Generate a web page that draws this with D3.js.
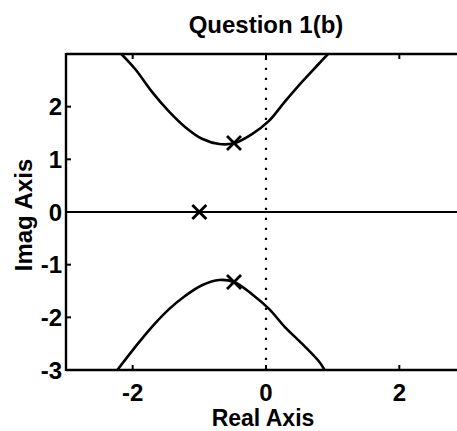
<!DOCTYPE html>
<html>
<head>
<meta charset="utf-8">
<script src="https://cdn.jsdelivr.net/npm/d3@7"></script>
<style>
  html, body { margin: 0; padding: 0; background: #fff; }
  svg text { font-family: "Liberation Sans", Arial, sans-serif; fill: #000; }
</style>
</head>
<body>
<svg id="chart" width="457" height="431"></svg>
<script>
// ---- data ----
const title = "Question 1(b)";
const xLabel = "Real Axis";
const yLabel = "Imag Axis";
const xTicks = [-2, 0, 2];
const yTicks = [-3, -2, -1, 0, 1, 2];
const xDomain = [-3, 3];
const yDomain = [-3, 3];

// upper branch of the locus (real, imag)
const upperRe = [-2.17, -1.96, -1.71, -1.45, -1.21, -0.96, -0.70, -0.47, -0.21, 0.045, 0.28, 0.54, 0.79, 0.93];
const upperIm = [3.0, 2.71, 2.28, 1.90, 1.61, 1.39, 1.29, 1.31, 1.48, 1.73, 2.09, 2.47, 2.81, 3.0];
// lower branch
const lowerRe = [-2.23, -1.96, -1.71, -1.45, -1.21, -0.96, -0.70, -0.48, -0.21, 0.045, 0.28, 0.54, 0.79, 0.88];
const lowerIm = [-3.0, -2.56, -2.18, -1.84, -1.59, -1.39, -1.29, -1.33, -1.56, -1.84, -2.18, -2.50, -2.83, -3.0];
// real-axis segment of the locus
const realAxisRe = [-3, 3];
const realAxisIm = [0, 0];
// open-loop poles
const polesRe = [-1, -0.48, -0.48];
const polesIm = [0, 1.31, -1.33];
// imaginary axis (dotted)
const imagAxisRe = [0, 0];
const imagAxisIm = [-3, 3];

// ---- drawing ----
const svg = d3.select("#chart");
const x = d3.scaleLinear().domain(xDomain).range([66, 466]);
const y = d3.scaleLinear().domain(yDomain).range([370, 54]);

svg.append("defs").append("clipPath").attr("id", "clip")
  .append("rect").attr("x", x(-3)).attr("y", y(3)).attr("width", x(3) - x(-3)).attr("height", y(-3) - y(3));

const plot = svg.append("g").attr("clip-path", "url(#clip)");
const zip = (a, b) => a.map((v, i) => [v, b[i]]);
const straight = d3.line().x(d => x(d[0])).y(d => y(d[1]));
const smooth = d3.line().x(d => x(d[0])).y(d => y(d[1])).curve(d3.curveCatmullRom);

// dotted imaginary axis
plot.append("path")
  .attr("d", straight(zip(imagAxisRe, imagAxisIm)))
  .attr("stroke", "#000").attr("stroke-width", 2.2).attr("fill", "none")
  .attr("stroke-dasharray", "2.2,7.8");

// real axis locus
plot.append("path")
  .attr("d", straight(zip(realAxisRe, realAxisIm)))
  .attr("stroke", "#000").attr("stroke-width", 2.2).attr("fill", "none");

// branches
[zip(upperRe, upperIm), zip(lowerRe, lowerIm)].forEach(pts => {
  plot.append("path").attr("d", smooth(pts))
    .attr("stroke", "#000").attr("stroke-width", 2.6).attr("fill", "none");
});

// pole markers
const s = 7;
zip(polesRe, polesIm).forEach(p => {
  const cx = x(p[0]), cy = y(p[1]);
  svg.append("path")
    .attr("d", `M${cx - s},${cy - s}L${cx + s},${cy + s}M${cx - s},${cy + s}L${cx + s},${cy - s}`)
    .attr("stroke", "#000").attr("stroke-width", 2.8).attr("fill", "none");
});

// axes box (left, top, bottom)
const box = svg.append("g");
box.append("line").attr("x1", x(-3)).attr("x2", x(-3)).attr("y1", y(3) - 1).attr("y2", y(-3) + 1)
  .attr("stroke", "#000").attr("stroke-width", 2.4);
box.append("line").attr("x1", x(-3)).attr("x2", x(3)).attr("y1", y(3)).attr("y2", y(3))
  .attr("stroke", "#000").attr("stroke-width", 2.4);
box.append("line").attr("x1", x(-3)).attr("x2", x(3)).attr("y1", y(-3)).attr("y2", y(-3))
  .attr("stroke", "#000").attr("stroke-width", 2.4);

// inward ticks
const tl = 5;
xTicks.forEach(t => {
  box.append("line").attr("x1", x(t)).attr("x2", x(t)).attr("y1", y(-3)).attr("y2", y(-3) - tl)
    .attr("stroke", "#000").attr("stroke-width", 2);
  box.append("line").attr("x1", x(t)).attr("x2", x(t)).attr("y1", y(3)).attr("y2", y(3) + tl)
    .attr("stroke", "#000").attr("stroke-width", 2);
});
yTicks.forEach(t => {
  box.append("line").attr("x1", x(-3)).attr("x2", x(-3) + tl).attr("y1", y(t)).attr("y2", y(t))
    .attr("stroke", "#000").attr("stroke-width", 2);
});

// tick labels
const fs = 24;
xTicks.forEach(t => {
  svg.append("text").attr("x", x(t)).attr("y", 401).attr("text-anchor", "middle")
    .attr("font-size", fs).attr("font-weight", "bold").text(String(t));
});
yTicks.forEach(t => {
  svg.append("text").attr("x", 62).attr("y", y(t)).attr("dy", "0.36em").attr("text-anchor", "end")
    .attr("font-size", fs).attr("font-weight", "bold").text(String(t));
});

// titles
svg.append("text").attr("x", 266).attr("y", 33).attr("text-anchor", "middle")
  .attr("font-size", fs).attr("font-weight", "bold").text(title);
svg.append("text").attr("x", 263).attr("y", 426).attr("text-anchor", "middle")
  .attr("font-size", 23).attr("font-weight", "bold").text(xLabel);
svg.append("text").attr("transform", "translate(32,215) rotate(-90)").attr("text-anchor", "middle")
  .attr("font-size", fs).attr("font-weight", "bold").text(yLabel);
</script>
</body>
</html>
